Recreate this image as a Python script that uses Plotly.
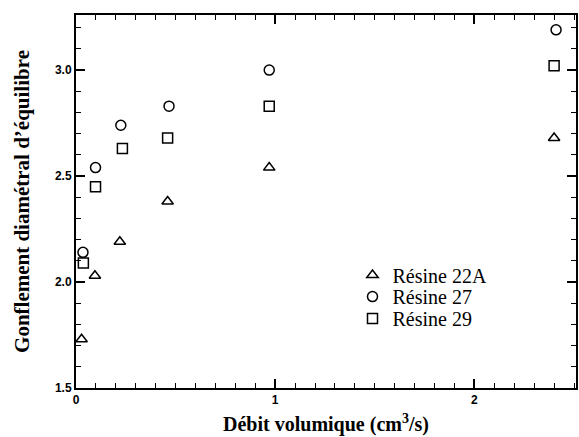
import plotly.graph_objects as go

# Data
x_22A = [0.028, 0.095, 0.22, 0.46, 0.97, 2.40]
y_22A = [1.73, 2.03, 2.19, 2.38, 2.54, 2.68]

x_27 = [0.035, 0.098, 0.225, 0.467, 0.97, 2.41]
y_27 = [2.14, 2.54, 2.74, 2.83, 3.00, 3.19]

x_29 = [0.037, 0.098, 0.233, 0.46, 0.97, 2.40]
y_29 = [2.09, 2.45, 2.63, 2.68, 2.83, 3.02]

series = [
    ("Résine 22A", x_22A, y_22A, "triangle-up-open", "legend", 0.303),
    ("Résine 27", x_27, y_27, "circle-open", "legend2", 0.245),
    ("Résine 29", x_29, y_29, "square-open", "legend3", 0.186),
]

fig = go.Figure()
legends = {}
for name, xs, ys, sym, leg, ly in series:
    fig.add_trace(go.Scatter(
        x=xs, y=ys, mode="markers", name=name, legend=leg,
        marker=dict(symbol=sym, size=10, color="black", line=dict(color="black", width=1.5)),
    ))
    legends[leg] = dict(
        x=0.553, y=ly, xanchor="left", yanchor="middle",
        font=dict(family="Liberation Serif", size=20, color="black"),
        bgcolor="rgba(0,0,0,0)", itemwidth=30,
    )

axis_common = dict(
    showline=True, linecolor="black", linewidth=2, mirror="allticks",
    ticks="inside", ticklen=9, tickwidth=1.5, tickcolor="black",
    showgrid=False, zeroline=False,
    tickfont=dict(family="Liberation Sans", size=12, color="black", weight="bold"),
    minor=dict(ticks="inside", ticklen=5, tickwidth=1, tickcolor="black", showgrid=False),
)

fig.update_xaxes(
    range=[0, 2.51], tickvals=[0, 1, 2], ticktext=["0", "1", "2"],
    minor_dtick=0.1, minor_tick0=0,
    title=dict(text="Débit volumique (cm<sup>3</sup>/s)", standoff=11,
               font=dict(family="Liberation Serif", size=20, color="black", weight="bold")),
    **axis_common,
)
fig.update_yaxes(
    range=[1.5, 3.26], tickvals=[1.5, 2.0, 2.5, 3.0], ticktext=["1.5", "2.0", "2.5", "3.0"],
    minor_dtick=0.1, minor_tick0=1.5,
    title=dict(text="Gonflement diamétral d’équilibre", standoff=20,
               font=dict(family="Liberation Serif", size=21, color="black", weight="bold")),
    **axis_common,
)

fig.update_layout(
    width=579, height=437,
    margin=dict(l=76, r=1, t=15, b=49),
    plot_bgcolor="white", paper_bgcolor="white",
    showlegend=True,
    **legends,
)

fig.write_html("out.html")
